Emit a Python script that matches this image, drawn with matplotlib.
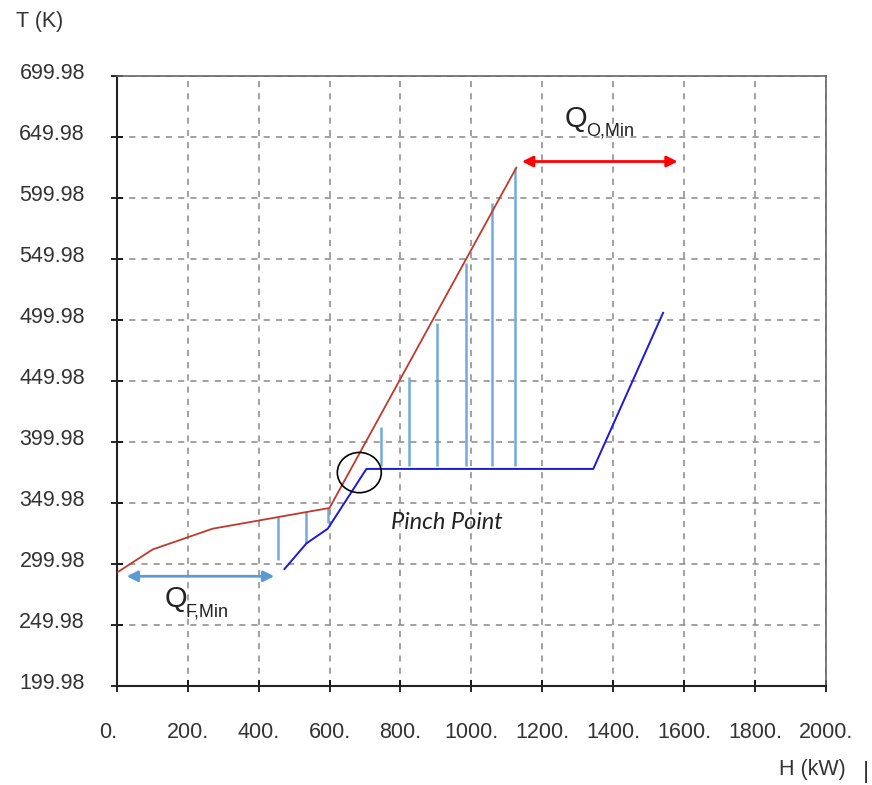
import numpy as np
import matplotlib
matplotlib.use("Agg")
import matplotlib.pyplot as plt
from matplotlib.patches import Ellipse
from matplotlib.transforms import ScaledTranslation

plt.rcParams['font.family'] = ['Liberation Sans', 'DejaVu Sans']

# hot composite curve (H in kW, T in K)
hot_H = [0, 101, 270, 600, 1127]
hot_T = [293, 312, 329, 346, 625]
# cold composite curve
cold_H = [473, 535, 595, 704, 1344, 1541]
cold_T = [296, 317, 329, 378, 378, 506]
# vertical heat exchange lines
vl_H = [454, 535, 597, 746, 825, 904, 986, 1059, 1124]
vl_top = [338.5, 342.6, 346, 412, 453, 498, 547, 596, 625]
vl_bot = [303, 317, 333.6, 380, 380, 380, 380, 380, 380]

xticks = np.arange(0, 2001, 200)
yticks = np.arange(199.98, 700, 50)

fig = plt.figure(figsize=(8.72, 7.85), dpi=100)
ax = fig.add_axes([0.134, 0.126, 0.813, 0.777])

ax.vlines(vl_H, vl_bot, vl_top, color='#5b9bd5', lw=1.8, alpha=0.85, zorder=2)
ax.plot(hot_H, hot_T, color='#c0392b', lw=1.3, zorder=3)
ax.plot(cold_H, cold_T, color='#1a1ad6', lw=1.4, zorder=3)

# pinch circle
ax.add_patch(Ellipse((684, 375), 124, 33, fill=False, ec='black', lw=1.2, zorder=4))
ax.text(932, 334, 'Pinch Point', family=['Lato', 'DejaVu Sans'], style='italic',
        fontsize=17, ha='center', va='center', color='#222222')

# minimum utility arrows
ax.annotate('', xy=(20, 290), xytext=(452, 290),
            arrowprops=dict(arrowstyle='<|-|>', color='#5b9bd5', lw=2, mutation_scale=16))
ax.annotate('', xy=(1135, 630), xytext=(1590, 630),
            arrowprops=dict(arrowstyle='<|-|>', color='#ff0000', lw=2, mutation_scale=16))

def q_label(h, t, sub):
    ax.text(h, t, 'Q', fontsize=21, ha='left', va='center', color='#222222')
    ax.annotate(sub, xy=(h, t), xytext=(15, -9), textcoords='offset points',
                fontsize=13, ha='left', va='center', color='#222222')

q_label(135, 271, 'F,Min')
q_label(1264, 665, 'O,Min')

ax.set_xlim(0, 2000)
ax.set_ylim(199.98, 699.98)
ax.set_xticks(xticks)
ax.set_xticklabels(['%d.' % v for v in xticks])
ax.set_yticks(yticks)
ax.set_yticklabels(['%.2f' % v for v in yticks])
ax.tick_params(direction='inout', length=8, width=1.2, labelsize=15.5, colors='black')
ax.tick_params(axis='x', pad=22)
ax.tick_params(axis='y', pad=19)
up = ScaledTranslation(0, 4 / 72, fig.dpi_scale_trans)
for t in ax.get_yticklabels():
    t.set_color('#333333')
    t.set_transform(t.get_transform() + up)
for t in ax.get_xticklabels():
    t.set_color('#333333')
ax.get_xticklabels()[0].set_horizontalalignment('right')
ax.grid(True, linestyle=(0, (4, 4)), color='#888888', lw=1.1)
for s in ['left', 'bottom']:
    ax.spines[s].set_linewidth(1.5)
    ax.spines[s].set_color('#222222')
for s in ['top', 'right']:
    ax.spines[s].set_linewidth(1.2)
    ax.spines[s].set_color('#666666')

fig.text(40 / 872, 1 - 22 / 785, 'T (K)', fontsize=15.5, color='#333333', ha='center', va='center')
fig.text(812 / 872, 1 - 770 / 785, 'H (kW)', fontsize=15.5, color='#333333', ha='center', va='center')
fig.text(866 / 872, 1 - 772 / 785, '|', fontsize=17, color='#333333', ha='center', va='center')

fig.savefig('out.png', dpi=100)
